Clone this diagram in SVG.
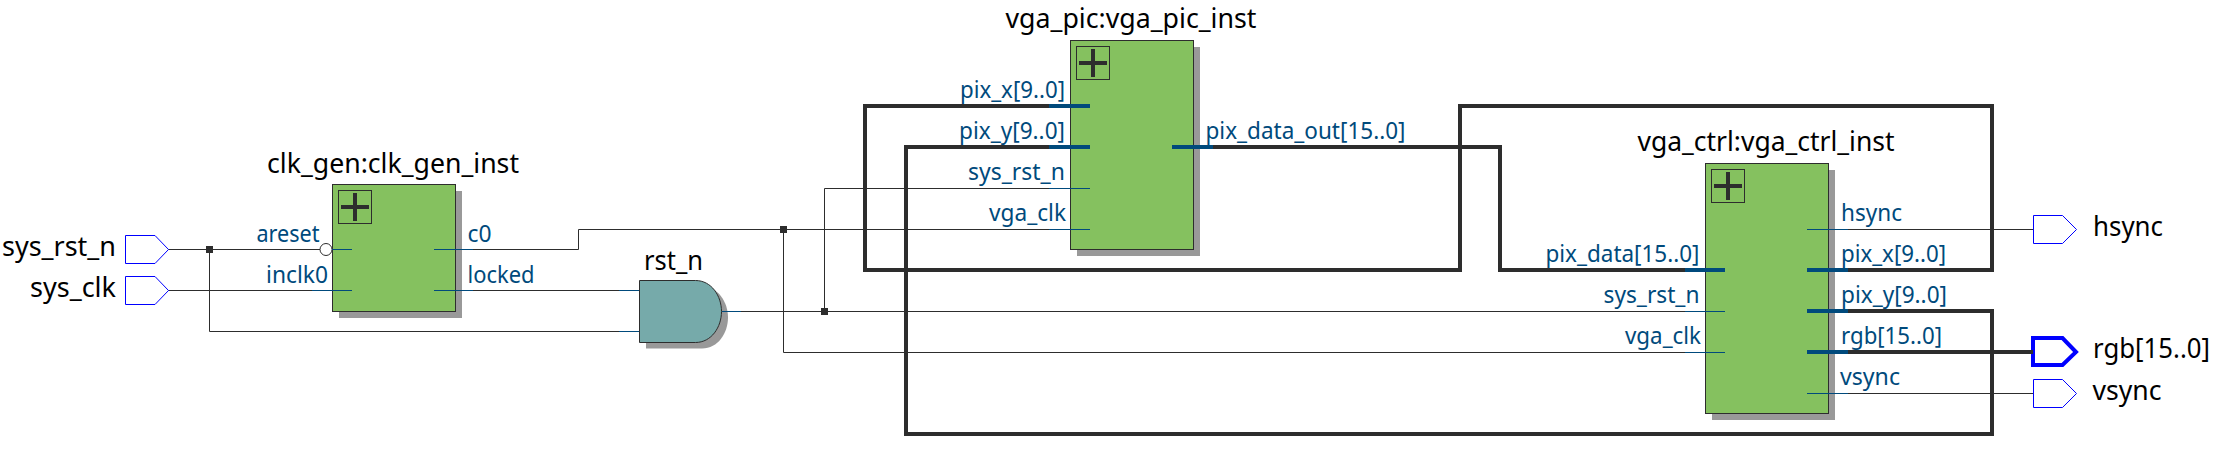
<svg xmlns="http://www.w3.org/2000/svg" width="2219" height="458" viewBox="0 0 2219 458">
<style>
text{font-family:"Noto Sans","Open Sans","Liberation Sans",sans-serif;transform:translateY(1px)}
.t{font-size:26.5px;fill:#000}
.p{font-size:23.5px;fill:#004a7c}
.w{fill:none;stroke:#2d2d2d;stroke-width:1}
.b{fill:none;stroke:#2d2d2d;stroke-width:4;stroke-linejoin:miter}
.sw{fill:none;stroke:#004a7c;stroke-width:1}
.sb{fill:none;stroke:#004a7c;stroke-width:4}
.box{fill:#85c15f;stroke:#2d2d2d;stroke-width:1}
.sh{fill:#999}
.pl{fill:none;stroke:#2d2d2d;stroke-width:1}
.pk{fill:none;stroke:#2d2d2d;stroke-width:4}
.pin{fill:#fff;stroke:#0000ff;stroke-width:1}
.pinb{fill:#fff;stroke:#0000ff;stroke-width:4}
.j{fill:#2d2d2d}
</style>
<g id="connectors">
<path class="w" d="M168 249.5H320"/>
<path class="w" d="M168 290.5H312"/>
<path class="w" d="M209.5 249.5V331.5H619"/>
<path class="w" d="M473 249.5H578.5V229.5H1049"/>
<path class="w" d="M473 290.5H619"/>
<path class="w" d="M741 311.5H1685"/>
<path class="w" d="M783.5 229.5V352.5H1685"/>
<path class="w" d="M824.5 311.5V188.5H1049"/>
<path class="w" d="M1848 229.5H2033"/>
<path class="w" d="M1848 393.5H2033"/>
<path class="b" d="M1049 106H865V270H1460V106H1992V270H1848"/>
<path class="b" d="M1049 147H906V434H1992V311H1848"/>
<path class="b" d="M1213 147H1500V270H1685"/>
<path class="b" d="M1848 352H2033"/>
<rect class="j" x="206" y="246" width="7" height="7"/>
<rect class="j" x="780" y="226" width="7" height="7"/>
<rect class="j" x="821" y="308" width="7" height="7"/>
</g>
<g id="sys_rst_n">
<path class="pin" d="M125.5 235.5H155L168.5 249.5L155 263.5H125.5Z"/>
<text class="t" x="2" y="255" textLength="114" lengthAdjust="spacingAndGlyphs">sys_rst_n</text>
</g>
<g id="sys_clk">
<path class="pin" d="M125.5 276.5H155L168.5 290.5L155 304.5H125.5Z"/>
<text class="t" x="30" y="296" textLength="86" lengthAdjust="spacingAndGlyphs">sys_clk</text>
</g>
<g id="clk_gen_inst">
<rect class="sh" x="339" y="191" width="123" height="127"/>
<rect class="box" x="332.5" y="184.5" width="123" height="127"/>
<rect class="pl" x="338.5" y="190.5" width="33" height="33"/>
<path class="pk" d="M341 207H369M355 193V221"/>
<circle cx="326" cy="249.5" r="6" fill="#fff" stroke="#2d2d2d" stroke-width="1"/>
<path class="sw" d="M332 249.5H352M312 290.5H352M434 249.5H473M434 290.5H473"/>
<text class="t" x="267" y="172" textLength="252" lengthAdjust="spacingAndGlyphs">clk_gen:clk_gen_inst</text>
<text class="p" x="256.5" y="240.5" textLength="63" lengthAdjust="spacingAndGlyphs">areset</text>
<text class="p" x="266" y="281.5" textLength="62" lengthAdjust="spacingAndGlyphs">inclk0</text>
<text class="p" x="467.5" y="240.5" textLength="24" lengthAdjust="spacingAndGlyphs">c0</text>
<text class="p" x="467.5" y="281.5" textLength="67" lengthAdjust="spacingAndGlyphs">locked</text>
</g>
<g id="rst_n">
<path class="sh" d="M646 286.5H702C718 286.5 728 302 728 317.5C728 333 718 348.5 702 348.5H646Z"/>
<path d="M639.5 280.5H695.5C711.5 280.5 721.5 296 721.5 311.5C721.5 327 711.5 342.5 695.5 342.5H639.5Z" fill="#76aaaa" stroke="#2d2d2d" stroke-width="1"/>
<path class="sw" d="M619 290.5H639M619 331.5H639M722 311.5H741"/>
<text class="t" x="644" y="269" textLength="59" lengthAdjust="spacingAndGlyphs">rst_n</text>
</g>
<g id="vga_pic_inst">
<rect class="sh" x="1077" y="47" width="123" height="209"/>
<rect class="box" x="1070.5" y="40.5" width="123" height="209"/>
<rect class="pl" x="1076.5" y="46.5" width="33" height="33"/>
<path class="pk" d="M1079 63H1107M1093 49V77"/>
<path class="sb" d="M1049 106H1090M1049 147H1090M1172 147H1213"/>
<path class="sw" d="M1049 188.5H1090M1049 229.5H1090"/>
<text class="t" x="1005.5" y="27" textLength="251" lengthAdjust="spacingAndGlyphs">vga_pic:vga_pic_inst</text>
<text class="p" x="960" y="96.5" textLength="105" lengthAdjust="spacingAndGlyphs">pix_x[9..0]</text>
<text class="p" x="959" y="137.5" textLength="106" lengthAdjust="spacingAndGlyphs">pix_y[9..0]</text>
<text class="p" x="968" y="179" textLength="97" lengthAdjust="spacingAndGlyphs">sys_rst_n</text>
<text class="p" x="989" y="220" textLength="77" lengthAdjust="spacingAndGlyphs">vga_clk</text>
<text class="p" x="1205.5" y="137.5" textLength="200" lengthAdjust="spacingAndGlyphs">pix_data_out[15..0]</text>
</g>
<g id="vga_ctrl_inst">
<rect class="sh" x="1712" y="170" width="123" height="250"/>
<rect class="box" x="1705.5" y="163.5" width="123" height="250"/>
<rect class="pl" x="1711.5" y="169.5" width="33" height="33"/>
<path class="pk" d="M1714 186H1742M1728 172V200"/>
<path class="sb" d="M1685 270H1725M1807 270H1848M1807 311H1848M1807 352H1848"/>
<path class="sw" d="M1685 311.5H1725M1685 352.5H1725M1807 229.5H1848M1807 393.5H1848"/>
<text class="t" x="1637.5" y="150" textLength="257" lengthAdjust="spacingAndGlyphs">vga_ctrl:vga_ctrl_inst</text>
<text class="p" x="1545.5" y="260.5" textLength="154" lengthAdjust="spacingAndGlyphs">pix_data[15..0]</text>
<text class="p" x="1603.5" y="301.5" textLength="96" lengthAdjust="spacingAndGlyphs">sys_rst_n</text>
<text class="p" x="1625" y="342.5" textLength="76" lengthAdjust="spacingAndGlyphs">vga_clk</text>
<text class="p" x="1841" y="220" textLength="61" lengthAdjust="spacingAndGlyphs">hsync</text>
<text class="p" x="1841" y="260.5" textLength="105" lengthAdjust="spacingAndGlyphs">pix_x[9..0]</text>
<text class="p" x="1841" y="301.5" textLength="106" lengthAdjust="spacingAndGlyphs">pix_y[9..0]</text>
<text class="p" x="1841" y="342.5" textLength="101" lengthAdjust="spacingAndGlyphs">rgb[15..0]</text>
<text class="p" x="1840" y="383.5" textLength="60" lengthAdjust="spacingAndGlyphs">vsync</text>
</g>
<g id="hsync">
<path class="pin" d="M2033.5 215.5H2062.5L2076.5 229.5L2062.5 243.5H2033.5Z"/>
<text class="t" x="2093" y="234.5" textLength="70" lengthAdjust="spacingAndGlyphs">hsync</text>
</g>
<g id="rgb">
<path class="pinb" d="M2033 338H2062.5L2076 352L2062.5 365H2033Z"/>
<path class="b" d="M2030 352H2033"/>
<text class="t" x="2093" y="357" textLength="117" lengthAdjust="spacingAndGlyphs">rgb[15..0]</text>
</g>
<g id="vsync">
<path class="pin" d="M2033.5 379.5H2062.5L2076.5 393.5L2062.5 407.5H2033.5Z"/>
<text class="t" x="2092.5" y="398.5" textLength="69" lengthAdjust="spacingAndGlyphs">vsync</text>
</g>
</svg>
